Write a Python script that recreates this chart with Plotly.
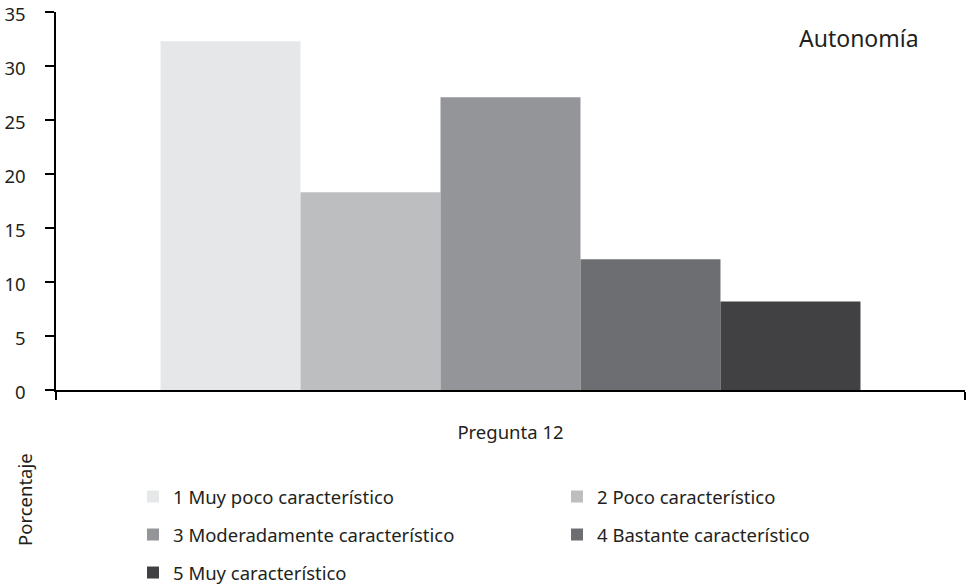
import plotly.graph_objects as go

# Response categories, share of respondents (%) and bar fills
categories = ["Pregunta 12"]
levels = [
    "1 Muy poco característico",
    "2 Poco característico",
    "3 Moderadamente característico",
    "4 Bastante característico",
    "5 Muy característico",
]
percent = [32.3, 18.3, 27.1, 12.1, 8.2]
fills = ["#e6e7e8", "#bcbec0", "#939598", "#6d6e71", "#414042"]

y_ticks = [0, 5, 10, 15, 20, 25, 30, 35]

FONT = "Noto Sans"
INK = "#231f20"
FS = 18.5

# plot area in pixels
L, R, T, B = 56, 965, 12, 390


def px_x(px):
    return (px - L) / (R - L)


def px_y(py):
    return 1 - (py - T) / (B - T)


# one legend box per entry, laid out as a two-column key under the chart
legend_ids = ["legend", "legend2", "legend3", "legend4", "legend5"]
legend_pos = [(133, 497), (557, 497), (133, 535), (557, 535), (133, 573)]

fig = go.Figure()
for name, val, col, lg in zip(levels, percent, fills, legend_ids):
    fig.add_trace(go.Bar(
        x=categories, y=[val], name=name, marker_color=col,
        marker_line_width=0, legend=lg,
    ))

legend_layout = {}
for lg, (lx, ly) in zip(legend_ids, legend_pos):
    legend_layout[lg] = dict(
        orientation="v", xanchor="left", yanchor="middle",
        xref="container", yref="container", x=lx / 967, y=1 - ly / 587,
        font=dict(family=FONT, size=FS, color=INK),
        bgcolor="rgba(0,0,0,0)",
    )

fig.update_layout(
    width=967, height=587,
    margin=dict(l=L, r=967 - R, t=T, b=587 - B, autoexpand=False),
    paper_bgcolor="white", plot_bgcolor="white",
    showlegend=True,
    barmode="group", bargap=0.23, bargroupgap=0,
    font=dict(family=FONT, size=FS, color=INK),
    xaxis=dict(
        type="category", showline=True, linecolor="black", linewidth=1.5,
        ticks="outside", tickson="boundaries", ticklen=8, tickcolor="black",
        tickwidth=1.5, ticklabelstandoff=25, showgrid=False, zeroline=False,
        tickangle=0, tickfont=dict(family=FONT, size=FS, color=INK),
    ),
    yaxis=dict(
        range=[0, 35], tickvals=y_ticks, showline=True, linecolor="black",
        linewidth=1.5, ticks="outside", ticklen=9, tickcolor="black",
        tickwidth=1.5, ticklabelstandoff=16, showgrid=False, zeroline=False,
        ticklabeloverflow="allow", ticklabelshift=3,
        tickfont=dict(family=FONT, size=FS, color=INK),
    ),
    annotations=[
        dict(text="Autonomía", xref="paper", yref="paper", x=px_x(921),
             y=px_y(38), xanchor="right", yanchor="middle",
             showarrow=False, font=dict(family=FONT, size=23, color=INK)),
        dict(text="Porcentaje", xref="paper", yref="paper",
             x=px_x(24), y=px_y(500), textangle=-90, xanchor="center",
             yanchor="middle", showarrow=False,
             font=dict(family=FONT, size=FS, color=INK)),
    ],
    **legend_layout,
)

fig.write_html("out.html")
